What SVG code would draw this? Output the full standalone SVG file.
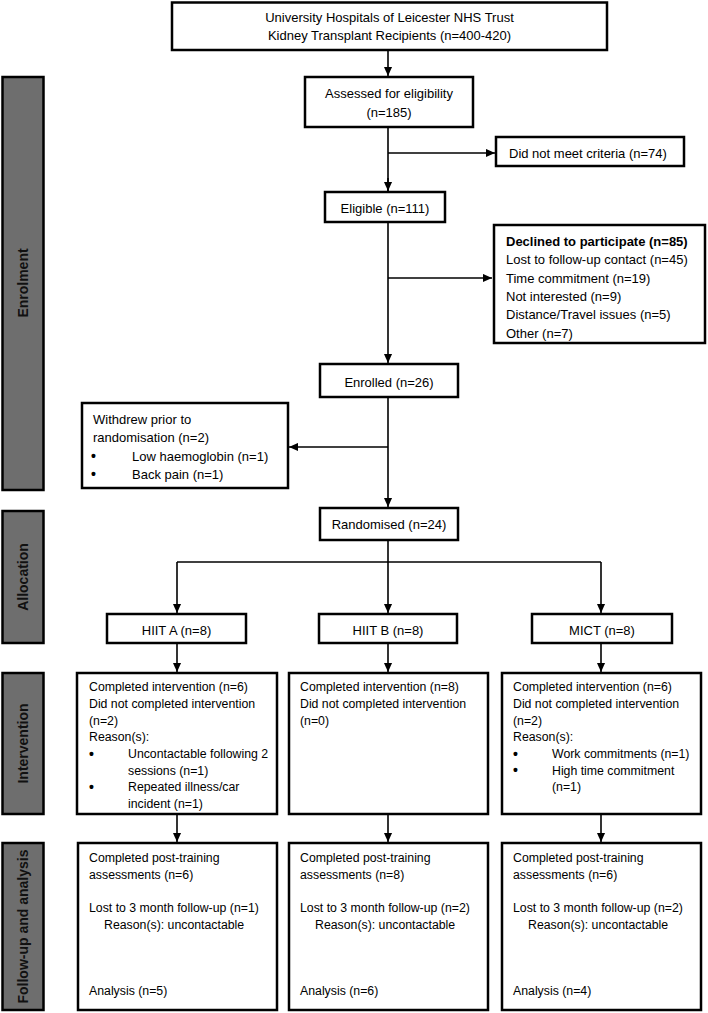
<svg xmlns="http://www.w3.org/2000/svg" width="708" height="1013" viewBox="0 0 708 1013">
<style>
.box{fill:#fff;stroke:#000;stroke-width:2.5}
.panel{fill:#6e6e6e;stroke:#000;stroke-width:2.5}
.t{font-family:"Liberation Sans",Arial,sans-serif;font-size:13px;fill:#000}
.s{font-family:"Liberation Sans",Arial,sans-serif;font-size:12.3px;fill:#000}
.bu{font-family:"Liberation Sans",Arial,sans-serif;font-size:14px;font-weight:bold;fill:#000}
.c{text-anchor:middle}
.b{font-weight:bold}
.pl{font-family:"Liberation Sans",Arial,sans-serif;font-size:14px;font-weight:bold;fill:#111;text-anchor:middle}
.ln{fill:none;stroke:#000;stroke-width:1.6}
</style>
<defs>
<marker id="ah" viewBox="0 0 10 10" refX="10" refY="5" markerUnits="userSpaceOnUse" markerWidth="9" markerHeight="9" orient="auto">
<path d="M0,0.5 L10,5 L0,9.5 z" fill="#000"/>
</marker>
</defs>

<g id="panels">
<g id="panel-enrolment"><rect class="panel" x="2.5" y="77" width="41" height="413"/><text class="pl" transform="translate(28,283) rotate(-90)">Enrolment</text></g>
<g id="panel-allocation"><rect class="panel" x="2.5" y="511" width="41" height="132"/><text class="pl" transform="translate(28,577) rotate(-90)">Allocation</text></g>
<g id="panel-intervention"><rect class="panel" x="2.5" y="673" width="41" height="141"/><text class="pl" transform="translate(28,743.5) rotate(-90)">Intervention</text></g>
<g id="panel-followup"><rect class="panel" x="2.5" y="843" width="41" height="167"/><text class="pl" transform="translate(28,926.5) rotate(-90)" font-size="13.5">Follow-up and analysis</text></g>
</g>

<g id="connectors">
<path class="ln" d="M388,50 V76" marker-end="url(#ah)"/>
<path class="ln" d="M388,127 V191"/>
<path class="ln" d="M388,153 H495" marker-end="url(#ah)"/>
<path class="ln" d="M388,178 V191" marker-end="url(#ah)"/>
<path class="ln" d="M388,222 V363" marker-end="url(#ah)"/>
<path class="ln" d="M388,278 H492" marker-end="url(#ah)"/>
<path class="ln" d="M388,397 V507" marker-end="url(#ah)"/>
<path class="ln" d="M388,447 H289" marker-end="url(#ah)"/>
<path class="ln" d="M388,540 V613" marker-end="url(#ah)"/>
<path class="ln" d="M177,562 H601"/>
<path class="ln" d="M177,562 V613" marker-end="url(#ah)"/>
<path class="ln" d="M601,562 V613" marker-end="url(#ah)"/>
<path class="ln" d="M177,643 V672" marker-end="url(#ah)"/>
<path class="ln" d="M388,643 V672" marker-end="url(#ah)"/>
<path class="ln" d="M601,643 V672" marker-end="url(#ah)"/>
<path class="ln" d="M177,814 V842" marker-end="url(#ah)"/>
<path class="ln" d="M388,814 V842" marker-end="url(#ah)"/>
<path class="ln" d="M601,814 V842" marker-end="url(#ah)"/>
</g>

<g id="n-source"><rect class="box" x="172" y="2.5" width="435" height="47.5"/>
<text class="t c" x="389.5" y="22">University Hospitals of Leicester NHS Trust</text>
<text class="t c" x="389.5" y="40">Kidney Transplant Recipients (n=400-420)</text></g>

<g id="n-assessed"><rect class="box" x="305" y="77" width="168" height="50"/>
<text class="t c" x="389" y="97.5">Assessed for eligibility</text>
<text class="t c" x="389" y="116.5">(n=185)</text></g>

<g id="n-notmeet"><rect class="box" x="496" y="137" width="188" height="29"/>
<text class="t" x="509" y="157.5">Did not meet criteria (n=74)</text></g>

<g id="n-eligible"><rect class="box" x="325" y="192" width="120" height="30"/>
<text class="t c" x="385" y="212.5">Eligible (n=111)</text></g>

<g id="n-declined"><rect class="box" x="494" y="225" width="211" height="118"/>
<text class="t b" x="506" y="245.5">Declined to participate (n=85)</text>
<text class="t" x="506" y="264">Lost to follow-up contact (n=45)</text>
<text class="t" x="506" y="282.5">Time commitment (n=19)</text>
<text class="t" x="506" y="300.8">Not interested (n=9)</text>
<text class="t" x="506" y="319.2">Distance/Travel issues (n=5)</text>
<text class="t" x="506" y="337.5">Other (n=7)</text></g>

<g id="n-enrolled"><rect class="box" x="320" y="364" width="138" height="33"/>
<text class="t c" x="389" y="386.5">Enrolled (n=26)</text></g>

<g id="n-withdrew"><rect class="box" x="82" y="403" width="206" height="85"/>
<text class="t" x="93" y="423.5">Withdrew prior to</text>
<text class="t" x="93" y="442">randomisation (n=2)</text>
<text class="bu" x="91" y="461">•</text><text class="t" x="132" y="460.5">Low haemoglobin (n=1)</text>
<text class="bu" x="91" y="479">•</text><text class="t" x="132" y="478.5">Back pain (n=1)</text></g>

<g id="n-randomised"><rect class="box" x="320" y="508" width="138" height="32"/>
<text class="t c" x="389" y="528.5">Randomised (n=24)</text></g>

<g id="n-hiita"><rect class="box" x="107" y="614" width="139" height="29"/>
<text class="t c" x="176.5" y="634.5">HIIT A (n=8)</text></g>
<g id="n-hiitb"><rect class="box" x="319" y="614" width="138" height="29"/>
<text class="t c" x="388" y="634.5">HIIT B (n=8)</text></g>
<g id="n-mict"><rect class="box" x="532" y="614" width="140" height="29"/>
<text class="t c" x="602" y="634.5">MICT (n=8)</text></g>

<g id="n-int-a"><rect class="box" x="77" y="673" width="200" height="141"/>
<text class="s" x="89" y="691.3">Completed intervention (n=6)</text>
<text class="s" x="89" y="708">Did not completed intervention</text>
<text class="s" x="89" y="724.6">(n=2)</text>
<text class="s" x="89" y="741.3">Reason(s):</text>
<text class="bu" x="89" y="758.5">•</text><text class="s" x="128" y="758">Uncontactable following 2</text>
<text class="s" x="128" y="774.6">sessions (n=1)</text>
<text class="bu" x="89" y="791.8">•</text><text class="s" x="128" y="791.3">Repeated illness/car</text>
<text class="s" x="128" y="808">incident (n=1)</text></g>

<g id="n-int-b"><rect class="box" x="289" y="673" width="199" height="141"/>
<text class="s" x="300" y="691.3">Completed intervention (n=8)</text>
<text class="s" x="300" y="708">Did not completed intervention</text>
<text class="s" x="300" y="724.6">(n=0)</text></g>

<g id="n-int-c"><rect class="box" x="502" y="673" width="199" height="141"/>
<text class="s" x="513" y="691.3">Completed intervention (n=6)</text>
<text class="s" x="513" y="708">Did not completed intervention</text>
<text class="s" x="513" y="724.6">(n=2)</text>
<text class="s" x="513" y="741.3">Reason(s):</text>
<text class="bu" x="513" y="758.5">•</text><text class="s" x="552" y="758">Work commitments (n=1)</text>
<text class="bu" x="513" y="775.1">•</text><text class="s" x="552" y="774.6">High time commitment</text>
<text class="s" x="552" y="791.3">(n=1)</text></g>

<g id="n-fu-a"><rect class="box" x="78" y="843" width="199" height="167"/>
<text class="s" x="89" y="862.3">Completed post-training</text>
<text class="s" x="89" y="878.6">assessments (n=6)</text>
<text class="s" x="89" y="912.3">Lost to 3 month follow-up (n=1)</text>
<text class="s" x="104" y="928.6">Reason(s): uncontactable</text>
<text class="s" x="89" y="995.3">Analysis (n=5)</text></g>

<g id="n-fu-b"><rect class="box" x="289" y="843" width="199" height="167"/>
<text class="s" x="300" y="862.3">Completed post-training</text>
<text class="s" x="300" y="878.6">assessments (n=8)</text>
<text class="s" x="300" y="912.3">Lost to 3 month follow-up (n=2)</text>
<text class="s" x="315" y="928.6">Reason(s): uncontactable</text>
<text class="s" x="300" y="995.3">Analysis (n=6)</text></g>

<g id="n-fu-c"><rect class="box" x="502" y="843" width="199" height="167"/>
<text class="s" x="513" y="862.3">Completed post-training</text>
<text class="s" x="513" y="878.6">assessments (n=6)</text>
<text class="s" x="513" y="912.3">Lost to 3 month follow-up (n=2)</text>
<text class="s" x="528" y="928.6">Reason(s): uncontactable</text>
<text class="s" x="513" y="995.3">Analysis (n=4)</text></g>
</svg>
